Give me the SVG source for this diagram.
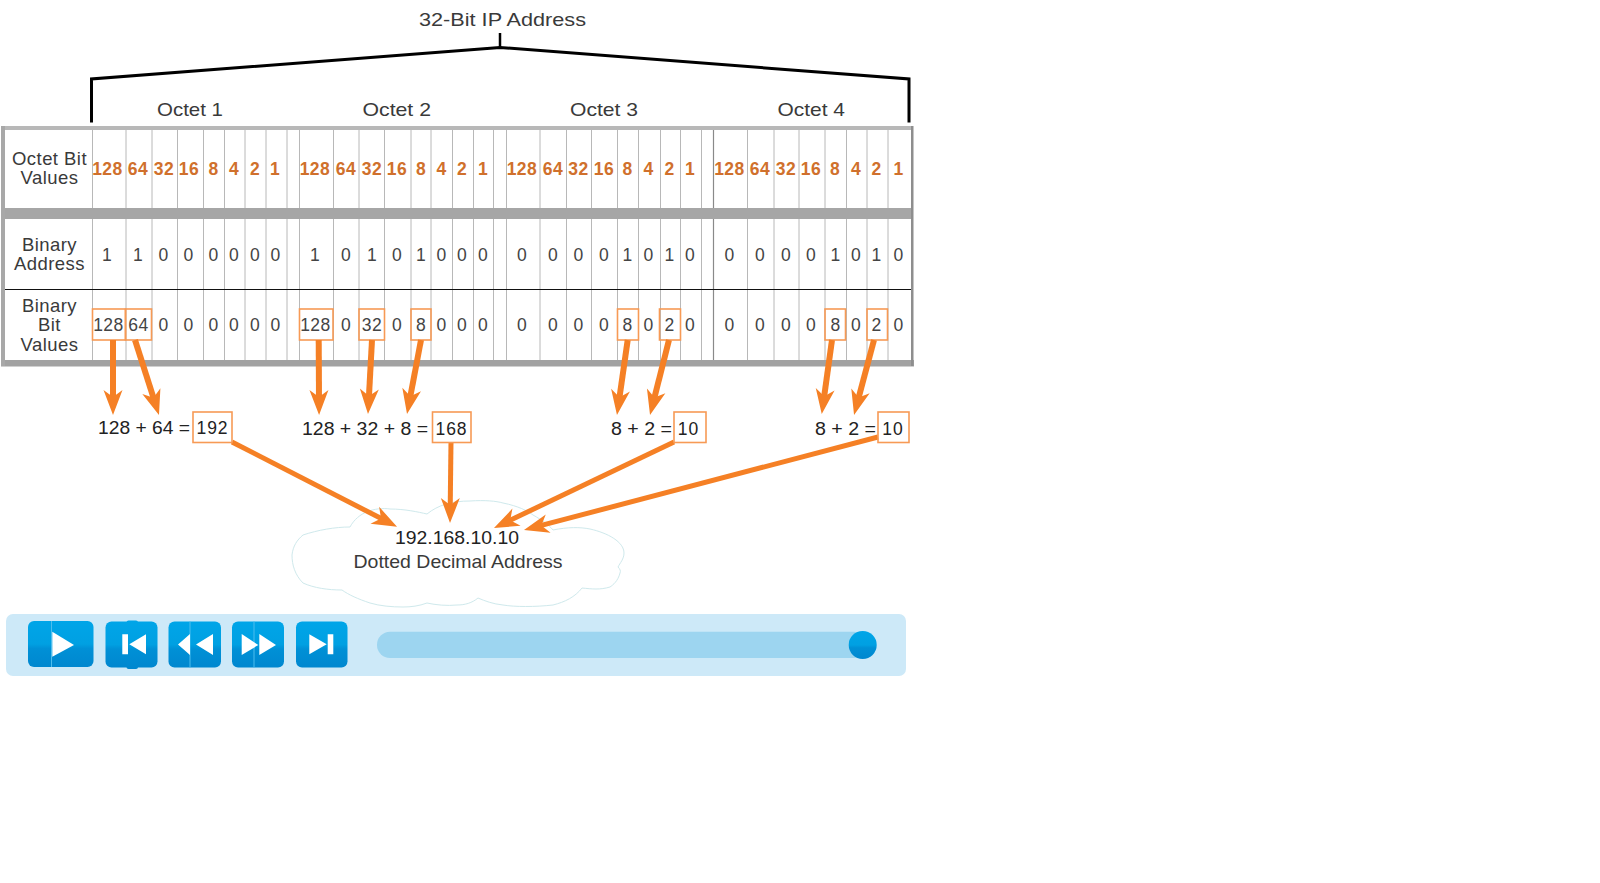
<svg xmlns="http://www.w3.org/2000/svg" width="1600" height="883" viewBox="0 0 1600 883">
<style>
text{font-family:"Liberation Sans",Arial,sans-serif;fill:#3a3a3a;font-size:18.5px}
.m{text-anchor:middle;letter-spacing:.45px}
.d{text-anchor:middle;font-size:17.500px;letter-spacing:.5px;fill:#444}
.s{text-anchor:middle;font-size:17.500px;letter-spacing:.9px;fill:#222}
.o{text-anchor:middle;font-size:17.500px;font-weight:bold;letter-spacing:.5px;fill:#d0702c}
.b{fill:#222}
.v{stroke:#b8b8b8;stroke-width:1;fill:none}
.box{fill:none;stroke:#f79a55;stroke-width:1.6}
.a{stroke:#f58025;stroke-width:6;fill:none;marker-end:url(#ah)}
.a2{stroke:#f58025;stroke-width:5;fill:none;marker-end:url(#ah)}
.btn{fill:url(#bg)}
.ic{fill:#fff}
.seam{stroke:#4dbdee;stroke-width:1}
</style>
<defs>
<marker id="ah" markerUnits="userSpaceOnUse" markerWidth="30" markerHeight="20" refX="10" refY="0" orient="auto" overflow="visible"><path d="M0 -9.500L25 0L0 9.500L7 0Z" fill="#f58025"/></marker>
<linearGradient id="bg" x1="0" y1="0" x2="0" y2="1"><stop offset="0" stop-color="#00a5e8"/><stop offset=".5" stop-color="#00a0e2"/><stop offset=".6" stop-color="#0090d6"/><stop offset="1" stop-color="#0087cf"/></linearGradient>
</defs>
<rect width="1600" height="883" fill="#fff"/>
<g id="title">
<text x="419" y="26" textLength="167" lengthAdjust="spacingAndGlyphs">32-Bit IP Address</text>
<path d="M91.500 122.500V79L500 47.500L909 79V122.500" fill="none" stroke="#000" stroke-width="3"/>
<path d="M500 33V47.500" fill="none" stroke="#000" stroke-width="2.500"/>
<text x="157" y="115.500" textLength="66" lengthAdjust="spacingAndGlyphs">Octet 1</text>
<text x="362.500" y="115.500" textLength="68.500" lengthAdjust="spacingAndGlyphs">Octet 2</text>
<text x="570" y="115.500" textLength="68" lengthAdjust="spacingAndGlyphs">Octet 3</text>
<text x="777.500" y="115.500" textLength="67.500" lengthAdjust="spacingAndGlyphs">Octet 4</text>
</g>
<g id="table">
<rect x="4" y="128" width="907.500" height="235" fill="#fff"/>
<path class="v" d="M92.500 130V208M126 130V208M152 130V208M177.500 130V208M203.500 130V208M224.500 130V208M245 130V208M266 130V208M287 130V208M299.500 130V208M333.500 130V208M359 130V208M384.500 130V208M411 130V208M431 130V208M452.500 130V208M473.500 130V208M493.500 130V208M506.500 130V208M540 130V208M566.500 130V208M591.500 130V208M617.500 130V208M638.500 130V208M660.500 130V208M680.500 130V208M701.500 130V208M747.500 130V208M774 130V208M799 130V208M825 130V208M846.500 130V208M867 130V208M888 130V208"/>
<path class="v" d="M92.500 219V360M126 219V360M152 219V360M177.500 219V360M203.500 219V360M224.500 219V360M245 219V360M266 219V360M287 219V360M299.500 219V360M333.500 219V360M359 219V360M384.500 219V360M411 219V360M431 219V360M452.500 219V360M473.500 219V360M493.500 219V360M506.500 219V360M540 219V360M566.500 219V360M591.500 219V360M617.500 219V360M638.500 219V360M660.500 219V360M680.500 219V360M701.500 219V360M747.500 219V360M774 219V360M799 219V360M825 219V360M846.500 219V360M867 219V360M888 219V360"/>
<path d="M713.500 130V208M713.500 219V360" stroke="#8a8a8a" stroke-width="1.200" fill="none"/>
<path d="M4 289.500H912" stroke="#111" stroke-width="1"/>
<rect x="1" y="126" width="911" height="4" fill="#b8b8b8"/>
<rect x="1" y="208" width="911" height="11" fill="#a6a6a6"/>
<rect x="1" y="360" width="913" height="6.500" fill="#a2a2a2"/>
<rect x="1" y="126" width="4" height="240" fill="#a8a8a8"/>
<rect x="911" y="126" width="2.500" height="240" fill="#8e8e8e"/>
<text class="m" x="49.500" y="165">Octet Bit</text><text class="m" x="49.500" y="183.500">Values</text>
<text class="m" x="49.500" y="250.500">Binary</text><text class="m" x="49.500" y="270">Address</text>
<text class="m" x="49.500" y="312">Binary</text><text class="m" x="49.500" y="331">Bit</text><text class="m" x="49.500" y="350.500">Values</text>
</g>
<g id="octet-bit-values">
<text class="o" x="107.500" y="175">128</text><text class="o" x="138" y="175">64</text><text class="o" x="164" y="175">32</text><text class="o" x="189" y="175">16</text><text class="o" x="213.500" y="175">8</text><text class="o" x="234" y="175">4</text><text class="o" x="255" y="175">2</text><text class="o" x="275" y="175">1</text>
<text class="o" x="315" y="175">128</text><text class="o" x="346" y="175">64</text><text class="o" x="372" y="175">32</text><text class="o" x="397" y="175">16</text><text class="o" x="421" y="175">8</text><text class="o" x="441.500" y="175">4</text><text class="o" x="462" y="175">2</text><text class="o" x="483" y="175">1</text>
<text class="o" x="522" y="175">128</text><text class="o" x="553" y="175">64</text><text class="o" x="578.500" y="175">32</text><text class="o" x="604" y="175">16</text><text class="o" x="627.500" y="175">8</text><text class="o" x="648.500" y="175">4</text><text class="o" x="669.500" y="175">2</text><text class="o" x="690" y="175">1</text>
<text class="o" x="729.500" y="175">128</text><text class="o" x="760" y="175">64</text><text class="o" x="786" y="175">32</text><text class="o" x="811" y="175">16</text><text class="o" x="835" y="175">8</text><text class="o" x="856" y="175">4</text><text class="o" x="876.500" y="175">2</text><text class="o" x="898.500" y="175">1</text>
</g>
<g id="binary-address">
<text class="d" x="107" y="261">1</text><text class="d" x="138" y="261">1</text><text class="d" x="163.500" y="261">0</text><text class="d" x="188.500" y="261">0</text><text class="d" x="213.500" y="261">0</text><text class="d" x="234" y="261">0</text><text class="d" x="255" y="261">0</text><text class="d" x="275.500" y="261">0</text>
<text class="d" x="315" y="261">1</text><text class="d" x="346" y="261">0</text><text class="d" x="372" y="261">1</text><text class="d" x="397" y="261">0</text><text class="d" x="421" y="261">1</text><text class="d" x="441.500" y="261">0</text><text class="d" x="462" y="261">0</text><text class="d" x="483" y="261">0</text>
<text class="d" x="522" y="261">0</text><text class="d" x="553" y="261">0</text><text class="d" x="578.500" y="261">0</text><text class="d" x="604" y="261">0</text><text class="d" x="627.500" y="261">1</text><text class="d" x="648.500" y="261">0</text><text class="d" x="669.500" y="261">1</text><text class="d" x="690" y="261">0</text>
<text class="d" x="729.500" y="261">0</text><text class="d" x="760" y="261">0</text><text class="d" x="786" y="261">0</text><text class="d" x="811" y="261">0</text><text class="d" x="835.500" y="261">1</text><text class="d" x="856" y="261">0</text><text class="d" x="876.500" y="261">1</text><text class="d" x="898.500" y="261">0</text>
</g>
<g id="binary-bit-values">
<text class="d" x="108.500" y="330.500">128</text><text class="d" x="138.500" y="330.500">64</text><text class="d" x="163.500" y="330.500">0</text><text class="d" x="188.500" y="330.500">0</text><text class="d" x="213.500" y="330.500">0</text><text class="d" x="234" y="330.500">0</text><text class="d" x="255" y="330.500">0</text><text class="d" x="275.500" y="330.500">0</text>
<text class="d" x="315.500" y="330.500">128</text><text class="d" x="346" y="330.500">0</text><text class="d" x="372" y="330.500">32</text><text class="d" x="397" y="330.500">0</text><text class="d" x="421" y="330.500">8</text><text class="d" x="441.500" y="330.500">0</text><text class="d" x="462" y="330.500">0</text><text class="d" x="483" y="330.500">0</text>
<text class="d" x="522" y="330.500">0</text><text class="d" x="553" y="330.500">0</text><text class="d" x="578.500" y="330.500">0</text><text class="d" x="604" y="330.500">0</text><text class="d" x="627.500" y="330.500">8</text><text class="d" x="648.500" y="330.500">0</text><text class="d" x="669.500" y="330.500">2</text><text class="d" x="690" y="330.500">0</text>
<text class="d" x="729.500" y="330.500">0</text><text class="d" x="760" y="330.500">0</text><text class="d" x="786" y="330.500">0</text><text class="d" x="811" y="330.500">0</text><text class="d" x="835.500" y="330.500">8</text><text class="d" x="856" y="330.500">0</text><text class="d" x="876.500" y="330.500">2</text><text class="d" x="898.500" y="330.500">0</text>
<rect class="box" x="92.500" y="309" width="33" height="31"/><rect class="box" x="125.500" y="309" width="26" height="31"/>
<rect class="box" x="299.500" y="309" width="33.500" height="31"/><rect class="box" x="359" y="309" width="25.500" height="31"/><rect class="box" x="411" y="309" width="20" height="31"/>
<rect class="box" x="617.500" y="309" width="21" height="31"/><rect class="box" x="659.500" y="309" width="21" height="31"/>
<rect class="box" x="825" y="309" width="20.500" height="31"/><rect class="box" x="867" y="309" width="20.500" height="31"/>
</g>
<g id="cloud">
<path d="M350 527C358 512 375 507 390 509C405 509 418 512 427 514C438 505 452 501 470 501C485 500 496 501 503 503C518 506 528 511 533 515C542 520 549 525 553 530C568 527 580 527 590 529C608 533 624 542 624 553C624 559 620 563 618 567C620 569 621 571 620 573C618 581 613 585 610 587C600 590 592 589 582 588C575 597 565 602 553 605C535 607 515 607 503 605C493 604 485 601 478 598C472 603 465 605 457 605C447 606 436 605 427 603C419 606 411 607 403 607C392 607 380 606 370 603C358 599 349 595 342 590C328 590 314 588 303 583C295 575 292 565 292 555C293 546 297 540 303 535C318 530 335 527 350 527Z" fill="#fff" stroke="#cfe9ec" stroke-width="1"/>
<text class="b" x="395" y="543.500" textLength="124" lengthAdjust="spacingAndGlyphs">192.168.10.10</text>
<text x="353.500" y="568" textLength="209" lengthAdjust="spacingAndGlyphs">Dotted Decimal Address</text>
</g>
<g id="connectors">
<path class="a" d="M113 340V400"/>
<path class="a" d="M135 340L154.400 400.700"/>
<path class="a" d="M318.700 340L319 400"/>
<path class="a" d="M372 340L368.800 399"/>
<path class="a" d="M421 340L409.800 399.300"/>
<path class="a" d="M627.700 340L619.100 400.100"/>
<path class="a" d="M669 340L653.700 400.500"/>
<path class="a" d="M832 340L823.800 399.200"/>
<path class="a" d="M874 340L857.900 400.500"/>
<path class="a2" d="M232 442L383.700 519.800"/>
<path class="a2" d="M451 442L450.200 508"/>
<path class="a2" d="M674 442L507.500 521.500"/>
<path class="a2" d="M878 437L538.500 526.200"/>
</g>
<g id="sums">
<text class="b" x="98" y="433.500" textLength="92" lengthAdjust="spacingAndGlyphs">128 + 64 =</text>
<rect class="box" x="193" y="412" width="39" height="30.500"/><text class="s" x="212.500" y="433.500">192</text>
<text class="b" x="302" y="434.500" textLength="126" lengthAdjust="spacingAndGlyphs">128 + 32 + 8 =</text>
<rect class="box" x="432.500" y="412" width="38.500" height="30.500"/><text class="s" x="451.500" y="434.500">168</text>
<text class="b" x="611" y="434.500" textLength="61" lengthAdjust="spacingAndGlyphs">8 + 2 =</text>
<rect class="box" x="674" y="412" width="32" height="30.500"/><text class="s" x="688.500" y="434.500">10</text>
<text class="b" x="815" y="434.500" textLength="61" lengthAdjust="spacingAndGlyphs">8 + 2 =</text>
<rect class="box" x="878" y="412" width="31" height="30.500"/><text class="s" x="893" y="434.500">10</text>
</g>
<g id="player">
<rect x="6" y="614" width="900" height="62" rx="7" fill="#cde9f8"/>
<g id="btn-play"><rect class="btn" x="28" y="621" width="65.500" height="46" rx="6"/><path class="seam" d="M51.500 621V667"/><path class="ic" d="M52.300 631.700L74 645L52.300 656.700Z"/></g>
<g id="btn-start"><rect class="btn" x="105.500" y="621.500" width="52" height="46" rx="6"/><rect class="btn" x="126.500" y="620.500" width="11.500" height="48.500" rx="2"/><path class="ic" d="M122.300 634.300H128V654.300H122.300ZM146 634.300L129.300 644.300L146 654.300Z"/></g>
<g id="btn-rewind"><rect class="btn" x="168.500" y="621.500" width="52.500" height="46" rx="6"/><path class="seam" d="M190 621.500V667.500"/><path class="ic" d="M190 634L178 644.500L190 655ZM213 634L196 644.500L213 655Z"/></g>
<g id="btn-forward"><rect class="btn" x="232" y="621.500" width="52" height="46" rx="6"/><path class="seam" d="M254 621.500V667.500"/><path class="ic" d="M241.700 634L258.300 645L241.700 655ZM259.300 634L276 645L259.300 655Z"/></g>
<g id="btn-end"><rect class="btn" x="296" y="621.500" width="51.500" height="46" rx="6"/><path class="ic" d="M309.300 634.300L326.700 644.300L309.300 654.300ZM327.700 634.300H333.300V654.300H327.700Z"/></g>
<g id="slider"><rect x="377" y="631.700" width="490" height="26.300" rx="13" fill="#9dd5f0"/><circle cx="862.700" cy="645" r="14" fill="url(#bg)"/></g>
</g>
</svg>
